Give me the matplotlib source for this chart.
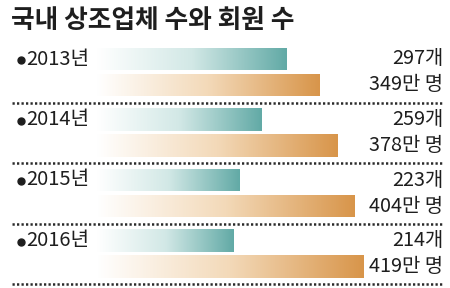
import numpy as np
import matplotlib
matplotlib.use("Agg")
import matplotlib.pyplot as plt
from matplotlib.colors import LinearSegmentedColormap

plt.rcParams['font.family'] = ['Noto Sans CJK KR', 'DejaVu Sans']

title = "국내 상조업체 수와 회원 수"
years = ["2013년", "2014년", "2015년", "2016년"]
companies = [297, 259, 223, 214]          # 개
members = [349, 378, 404, 419]            # 만 명
company_labels = [f"{v}개" for v in companies]
member_labels = [f"{v}만 명" for v in members]

W, H = 450, 288
fig = plt.figure(figsize=(W / 100, H / 100), dpi=100)
ax = fig.add_axes([0, 0, 1, 1])
x0_px, scale = 97.0, 0.637
ax.set_xlim(-x0_px / scale, (W - x0_px) / scale)
ax.set_ylim(H, 0)
ax.axis('off')

def px_to_x(px):
    return (px - x0_px) / scale

teal_cmap = LinearSegmentedColormap.from_list('t', ['#ffffff', '#d2e8e6', '#62aaa6'])
orange_cmap = LinearSegmentedColormap.from_list('o', ['#ffffff', '#f3d9b8', '#d8954a'])
grad = np.linspace(0, 1, 256).reshape(1, -1)

bar_h = 23
txt_col = '#1e1e1e'
for i, yr in enumerate(years):
    yc_t = 59 + 60.5 * i
    yc_o = yc_t + 26
    y_line = yc_t + 43.5
    for val, yc, cmap in [(companies[i], yc_t, teal_cmap), (members[i], yc_o, orange_cmap)]:
        bars = ax.barh([yc], [val], height=bar_h, left=0, color='none', edgecolor='none')
        patch = bars[0]
        im = ax.imshow(grad, cmap=cmap, aspect='auto',
                       extent=[0, val, yc + bar_h / 2, yc - bar_h / 2], zorder=2)
        im.set_clip_path(patch)
    ax.plot([px_to_x(21)], [yc_t + 1], marker='o', markersize=5, color=txt_col,
            linestyle='none')
    ax.text(px_to_x(26), yc_t, yr, ha='left', va='center', fontsize=14.5,
            color=txt_col, fontweight='light')
    ax.text(px_to_x(443), yc_t, company_labels[i], ha='right', va='center', fontsize=14.3,
            color=txt_col, fontweight='light')
    ax.text(px_to_x(443), yc_o, member_labels[i], ha='right', va='center', fontsize=14.3,
            color=txt_col, fontweight='light')
    ax.plot([px_to_x(12), px_to_x(443)], [y_line, y_line], color='#2a2a2a',
            linestyle=(0, (0.9, 0.9)), linewidth=1.8)

ax.set_xlim(-x0_px / scale, (W - x0_px) / scale)
ax.set_ylim(H, 0)
ax.text(px_to_x(11), 21, title, ha='left', va='center', fontsize=18.5,
        fontweight='bold', color=txt_col)

fig.savefig('out.png', dpi=100)
